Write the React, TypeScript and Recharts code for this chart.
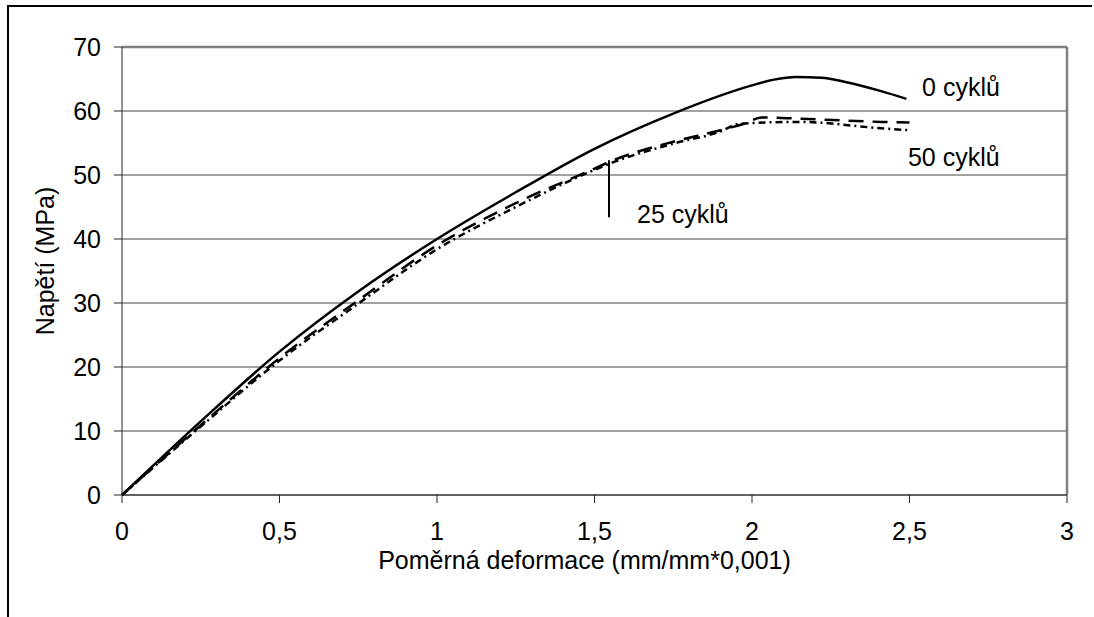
import {
    LineChart,
    Line,
    XAxis,
    YAxis,
    CartesianGrid,
    ReferenceLine,
    ReferenceDot,
} from 'recharts';

// 0 cyklů
const strain0 = [0, 0.25, 0.5, 0.75, 1.0, 1.25, 1.5, 1.75, 2.0, 2.07, 2.14, 2.22, 2.3, 2.41, 2.49];
const stress0 = [0, 11.5, 22.4, 31.8, 40.0, 47.3, 54.1, 59.6, 64.0, 64.9, 65.3, 65.2, 64.5, 63.1, 61.9];

// 25 cyklů
const strain25 = [0, 0.25, 0.5, 0.75, 1.0, 1.25, 1.5, 1.56, 1.75, 1.9, 1.98, 2.03, 2.15, 2.41, 2.5];
const stress25 = [0, 10.9, 21.4, 30.4, 39.0, 45.6, 51.0, 52.3, 55.2, 57.0, 58.1, 59.0, 58.8, 58.3, 58.2];

// 50 cyklů
const strain50 = [0, 0.25, 0.5, 0.75, 1.0, 1.25, 1.5, 1.56, 1.75, 1.9, 1.96, 2.15, 2.41, 2.5];
const stress50 = [0, 10.7, 21.0, 29.9, 38.4, 45.0, 50.8, 52.0, 54.9, 56.8, 58.0, 58.3, 57.3, 57.0];

const xTicks = [0, 0.5, 1, 1.5, 2, 2.5, 3];
const yTicks = [0, 10, 20, 30, 40, 50, 60, 70];

const toPoints = (xs: number[], ys: number[]) => xs.map((x, i) => ({ x, y: ys[i] }));

const series0 = toPoints(strain0, stress0);
const series25 = toPoints(strain25, stress25);
const series50 = toPoints(strain50, stress50);

const font = "'Liberation Sans', Arial, sans-serif";
const fs = 25;
const comma = (v: number) => String(v).replace('.', ',');

const App = () => {
    return (
        <div style={{ position: 'absolute', left: 0, top: 0, width: 1094, height: 617, overflow: 'hidden', background: '#fff', fontFamily: font }}>
            <div style={{ position: 'absolute', left: 7, top: 5, width: 1083, height: 700, borderTop: '2px solid #000', borderLeft: '2px solid #000' }} />
            <div style={{ position: 'absolute', left: 0, top: 0 }}>
                <LineChart width={1094} height={617} margin={{ top: 47, right: 27, bottom: 0, left: 0 }}>
                    <CartesianGrid vertical={false} stroke="#444" strokeWidth={1} />
                    <XAxis
                        type="number"
                        dataKey="x"
                        domain={[0, 3]}
                        ticks={xTicks}
                        tickFormatter={comma}
                        height={122}
                        stroke="#222"
                        tickSize={8}
                        tickMargin={19}
                        tick={{ fontSize: fs, fill: '#000', fontFamily: font }}
                        label={{ value: 'Poměrná deformace (mm/mm*0,001)', position: 'insideTop', offset: 56, fill: '#000', fontSize: fs, fontFamily: font, dx: -10 }}
                    />
                    <YAxis
                        type="number"
                        dataKey="y"
                        domain={[0, 70]}
                        ticks={yTicks}
                        width={122}
                        stroke="#222"
                        tickSize={8}
                        tickMargin={13}
                        tick={{ fontSize: fs, fill: '#000', fontFamily: font }}
                        label={{ value: 'Napětí (MPa)', angle: -90, position: 'insideLeft', offset: 45, fill: '#000', fontSize: fs, fontFamily: font, dy: -10, style: { textAnchor: 'middle' } }}
                    />
                    <ReferenceLine y={70} stroke="#808080" strokeWidth={2.5} />
                    <ReferenceLine x={3} stroke="#808080" strokeWidth={2.5} />
                    <Line data={series0} dataKey="y" type="monotone" stroke="#000" strokeWidth={2.5} dot={false} isAnimationActive={false} />
                    <Line data={series25} dataKey="y" type="monotone" stroke="#000" strokeWidth={2.5} strokeDasharray="15 9" dot={false} isAnimationActive={false} />
                    <Line data={series50} dataKey="y" type="monotone" stroke="#000" strokeWidth={2.5} strokeDasharray="7 4 2 4" dot={false} isAnimationActive={false} />
                    <ReferenceLine segment={[{ x: 1.546, y: 52.3 }, { x: 1.546, y: 43.4 }]} stroke="#000" strokeWidth={2} />
                    <ReferenceDot x={2.54} y={63.75} r={0} fill="none" stroke="none" label={{ value: '0 cyklů', position: 'right', offset: 0, fill: '#000', fontSize: fs, fontFamily: font }} />
                    <ReferenceDot x={2.495} y={52.8} r={0} fill="none" stroke="none" label={{ value: '50 cyklů', position: 'right', offset: 0, fill: '#000', fontSize: fs, fontFamily: font }} />
                    <ReferenceDot x={1.635} y={43.9} r={0} fill="none" stroke="none" label={{ value: '25 cyklů', position: 'right', offset: 0, fill: '#000', fontSize: fs, fontFamily: font }} />
                </LineChart>
            </div>
        </div>
    );
};

export default App;
